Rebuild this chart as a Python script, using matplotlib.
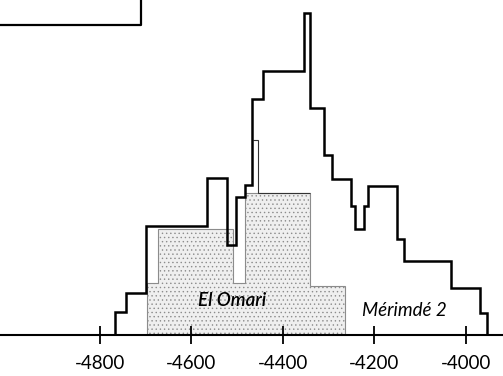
import matplotlib
matplotlib.use("Agg")
import matplotlib.pyplot as plt
from matplotlib.lines import Line2D

plt.rcParams['font.family'] = ['Lato', 'DejaVu Sans']
plt.rcParams['hatch.linewidth'] = 0.5

# all dates, stepped histogram (bin edges in years BC as negatives)
total_edges = [-4767, -4743, -4700, -4566, -4522, -4503, -4483, -4468, -4444,
               -4354, -4341, -4310, -4293, -4251, -4243, -4223, -4214, -4151,
               -4136, -4033, -3969, -3954]
total_counts = [2.3, 4.2, 10.9, 15.7, 9.0, 13.8, 15.0, 23.6, 26.4, 32.2, 22.7,
                18.0, 15.6, 12.9, 10.6, 12.9, 14.9, 9.6, 7.4, 4.7, 2.2]

# El Omari dates, shaded
omari_edges = [-4697, -4673, -4509, -4483, -4341, -4264]
omari_counts = [5.2, 10.6, 5.2, 14.2, 4.9]

# thin secondary outline that only shows where it leaves the others
thin_edges = [-4466, -4455, -4341]
thin_counts = [19.5, 14.2]

xticks = [-4800, -4600, -4400, -4200, -4000]

fig = plt.figure(figsize=(5.03, 3.76), dpi=100)
ax = fig.add_axes([0, 0, 1, 1])
ax.set_xlim(-5018.6, -3919)
ax.set_ylim(-4.1, 33.5)

ax.stairs(omari_counts, omari_edges, baseline=0, fill=True,
          facecolor='#efefef', edgecolor='#8c8c8c', hatch='....',
          linewidth=0.8, zorder=1)
ax.stairs(thin_counts, thin_edges, baseline=None, color='#333333',
          linewidth=0.8, zorder=2)
ax.stairs(total_counts, total_edges, baseline=0, color='black',
          linewidth=1.8, zorder=3)

ax.text(-4511, 3.5, "El Omari", style='italic', fontweight='semibold',
        fontsize=13.5, ha='center', va='center', zorder=4)
ax.text(-4135, 2.4, "Mérimdé 2", style='italic', fontsize=13.5, ha='center',
        va='center', zorder=4)

for side in ['top', 'right', 'left']:
    ax.spines[side].set_visible(False)
ax.spines['bottom'].set_position(('data', 0))
ax.spines['bottom'].set_linewidth(1.5)
ax.spines['bottom'].set_zorder(2)
ax.set_yticks([])
ax.set_xticks(xticks)
ax.set_xticklabels([str(t) for t in xticks])
ax.tick_params(axis='x', direction='inout', length=13, width=1.3,
               pad=8, labelsize=13.5)

# corner of the legend frame
fig.add_artist(Line2D([0, 141 / 503, 141 / 503], [1 - 25 / 376, 1 - 25 / 376, 1],
                      transform=fig.transFigure, color='black', linewidth=1.6))

fig.savefig("out.png", dpi=100)
